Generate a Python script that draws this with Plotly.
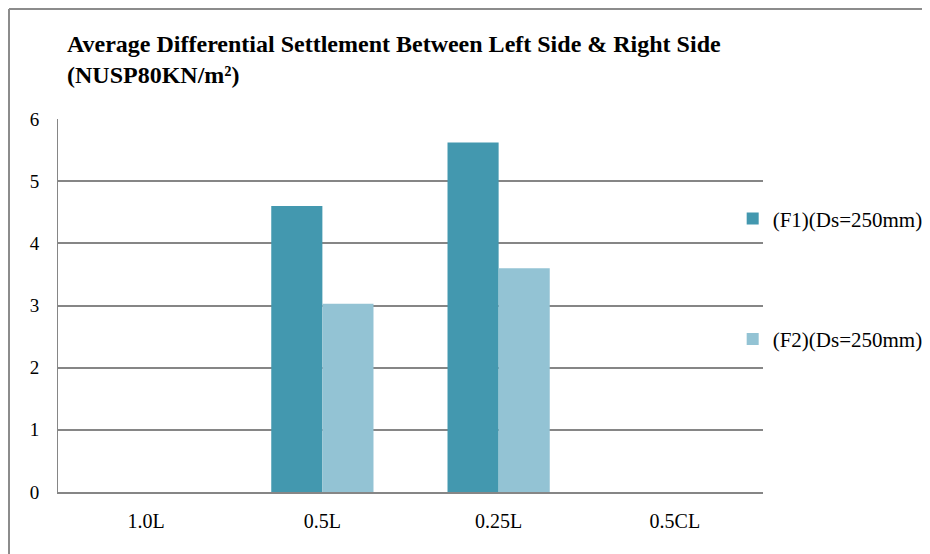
import plotly.graph_objects as go

categories = ["1.0L", "0.5L", "0.25L", "0.5CL"]
f1_values = [0, 4.6, 5.62, 0]
f2_values = [0, 3.03, 3.6, 0]
series_names = ["(F1)(Ds=250mm)", "(F2)(Ds=250mm)"]

serif = "Liberation Serif, Times New Roman, serif"

fig = go.Figure()
fig.add_trace(go.Bar(x=categories, y=f1_values, name=series_names[0], legendgroup="a",
                     marker=dict(color="#4398AF", line=dict(width=0))))
fig.add_trace(go.Bar(x=categories, y=f2_values, name=series_names[1], legendgroup="b",
                     marker=dict(color="#93C3D4", line=dict(width=0))))

fig.update_layout(
    width=922, height=546,
    margin=dict(l=50, r=167, t=111, b=62, autoexpand=False),
    paper_bgcolor="white", plot_bgcolor="white",
    barmode="group", bargap=0.42, bargroupgap=0,
    font=dict(family=serif, size=19, color="black"),
    title=dict(text="Average Differential Settlement Between Left Side & Right Side<br>(NUSP80KN/m²)",
               font=dict(family=serif, size=24, color="black", weight="bold"),
               x=0.064, xanchor="left", y=0.92, yanchor="top", xref="container"),
    legend=dict(x=0.957, xanchor="left", y=0.787, yanchor="top", tracegroupgap=90,
                font=dict(family=serif, size=21), bgcolor="rgba(0,0,0,0)"),
    showlegend=True,
)
fig.update_xaxes(showline=True, linecolor="#868686", linewidth=2, showgrid=False,
                 ticks="", tickfont=dict(family=serif, size=20), ticklabelstandoff=10)
fig.update_yaxes(range=[0, 6], dtick=1, showgrid=True, gridcolor="#868686", gridwidth=2,
                 showline=True, linecolor="#868686", linewidth=1, ticks="", zeroline=False,
                 tickfont=dict(family=serif, size=19), ticklabelstandoff=14)

# outer chart border (left and top edges)
fig.add_shape(type="line", xref="paper", yref="paper", x0=-0.0695, x1=-0.0695, y0=-0.3, y1=1.2949,
              line=dict(color="#8C8C8C", width=2))
fig.add_shape(type="line", xref="paper", yref="paper", x0=-0.0695, x1=1.3, y0=1.2949, y1=1.2949,
              line=dict(color="#8C8C8C", width=2))

fig.write_html("out.html")
